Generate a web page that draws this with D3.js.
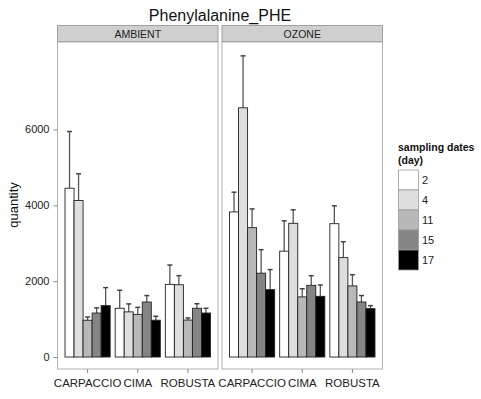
<!DOCTYPE html>
<html><head><meta charset="utf-8">
<script src="https://cdn.jsdelivr.net/npm/d3@7"></script>
<style>body{margin:0;background:#fff;}svg{display:block;font-family:"Liberation Sans",Arial,sans-serif;}</style>
</head><body>
<svg id="c" width="481" height="399"></svg>
<script>
const panels = ["AMBIENT", "OZONE"];
const varieties = ["CARPACCIO", "CIMA", "ROBUSTA"];
const days = ["2", "4", "11", "15", "17"];
const dayColors = ["#ffffff", "#dedede", "#b8b8b8", "#858585", "#000000"];
// mean values [panel][variety][day]
const meanAmbient = [
  [4450, 4125, 970, 1160, 1355],
  [1285, 1190, 1125, 1450, 970],
  [1915, 1905, 975, 1285, 1160]
];
const errAmbient = [
  [5945, 4830, 1055, 1295, 1830],
  [1760, 1400, 1310, 1620, 1075],
  [2425, 2145, 1030, 1405, 1285]
];
const meanOzone = [
  [3825, 6570, 3410, 2210, 1775],
  [2790, 3525, 1585, 1890, 1600],
  [3515, 2620, 1875, 1450, 1275]
];
const errOzone = [
  [4345, 7940, 3905, 2830, 2305],
  [3590, 3880, 1800, 2145, 1900],
  [3985, 3040, 2170, 1620, 1355]
];
const yTicks = [0, 2000, 4000, 6000];

(function () {
const svg = d3.select("#c");
const pTop = 42, pBottom = 369;
const panelX = [[57.5, 218], [222, 382.5]];
const y = d3.scaleLinear().domain([-316, 8305]).range([pBottom, pTop]);
const means = [meanAmbient, meanOzone];
const errs = [errAmbient, errOzone];
const inkText = "#222";

svg.append("text").attr("x", 220).attr("y", 21).attr("text-anchor", "middle")
  .attr("font-size", 16).attr("fill", "#111").text("Phenylalanine_PHE");

panels.forEach((p, pi) => {
  const [x0, x1] = panelX[pi];
  const g = svg.append("g");
  g.append("rect").attr("x", x0).attr("y", 25.5).attr("width", x1 - x0).attr("height", 16)
    .attr("fill", "#cfcfcf").attr("stroke", "#a0a0a0").attr("stroke-width", 1);
  g.append("text").attr("x", (x0 + x1) / 2).attr("y", 37.5).attr("text-anchor", "middle")
    .attr("font-size", 10.5).attr("fill", inkText).text(p);
  g.append("rect").attr("x", x0).attr("y", pTop).attr("width", x1 - x0).attr("height", pBottom - pTop)
    .attr("fill", "#fff").attr("stroke", "#b0b0b0").attr("stroke-width", 1);
  const xb = d3.scaleBand().domain(varieties).range([x0, x1]).paddingInner(0.1).paddingOuter(0.15);
  const xd = d3.scaleBand().domain(days).range([0, xb.bandwidth()]);
  varieties.forEach((v, vi) => {
    days.forEach((d, di) => {
      const bx = xb(v) + xd(d);
      const m = means[pi][vi][di], e = errs[pi][vi][di];
      const cx = bx + xd.bandwidth() / 2;
      g.append("line").attr("x1", cx).attr("x2", cx).attr("y1", y(m)).attr("y2", y(e))
        .attr("stroke", "#555").attr("stroke-width", 1.3);
      g.append("line").attr("x1", cx - 2.5).attr("x2", cx + 2.5).attr("y1", y(e)).attr("y2", y(e))
        .attr("stroke", "#444").attr("stroke-width", 1.5);
      g.append("rect").attr("x", bx).attr("y", y(m)).attr("width", xd.bandwidth()).attr("height", y(0) - y(m))
        .attr("fill", dayColors[di]).attr("stroke", "#222").attr("stroke-width", 0.9);
    });
  });
  const ax = g.append("g").attr("transform", `translate(0,${pBottom})`)
    .call(d3.axisBottom(xb).tickSize(4).tickSizeOuter(0).tickPadding(6));
  ax.select(".domain").remove();
  ax.selectAll("line").attr("stroke", "#888");
  ax.selectAll("text").attr("font-size", 11.5).attr("fill", inkText).attr("font-family", "Liberation Sans, Arial, sans-serif");
});

const ay = svg.append("g").attr("transform", `translate(${panelX[0][0]},0)`)
  .call(d3.axisLeft(y).tickValues(yTicks).tickFormat(d3.format("d")).tickSize(4).tickPadding(4));
ay.select(".domain").remove();
ay.selectAll("line").attr("stroke", "#888");
ay.selectAll("text").attr("font-size", 11).attr("fill", inkText).attr("font-family", "Liberation Sans, Arial, sans-serif");

svg.append("text").attr("transform", "translate(18,205) rotate(-90)").attr("text-anchor", "middle")
  .attr("font-size", 13).attr("fill", "#111").text("quantity");

const lg = svg.append("g");
lg.append("text").attr("x", 398).attr("y", 151).attr("font-size", 10.5).attr("font-weight", "bold").attr("fill", "#111").text("sampling dates");
lg.append("text").attr("x", 398).attr("y", 164).attr("font-size", 10.5).attr("font-weight", "bold").attr("fill", "#111").text("(day)");
days.forEach((d, i) => {
  lg.append("rect").attr("x", 398.5).attr("y", 170 + i * 20).attr("width", 20).attr("height", 20)
    .attr("fill", dayColors[i]).attr("stroke", "#999").attr("stroke-width", 0.8);
  lg.append("text").attr("x", 422).attr("y", 184 + i * 20).attr("font-size", 11).attr("fill", inkText).text(d);
});
})();
</script>
</body></html>
